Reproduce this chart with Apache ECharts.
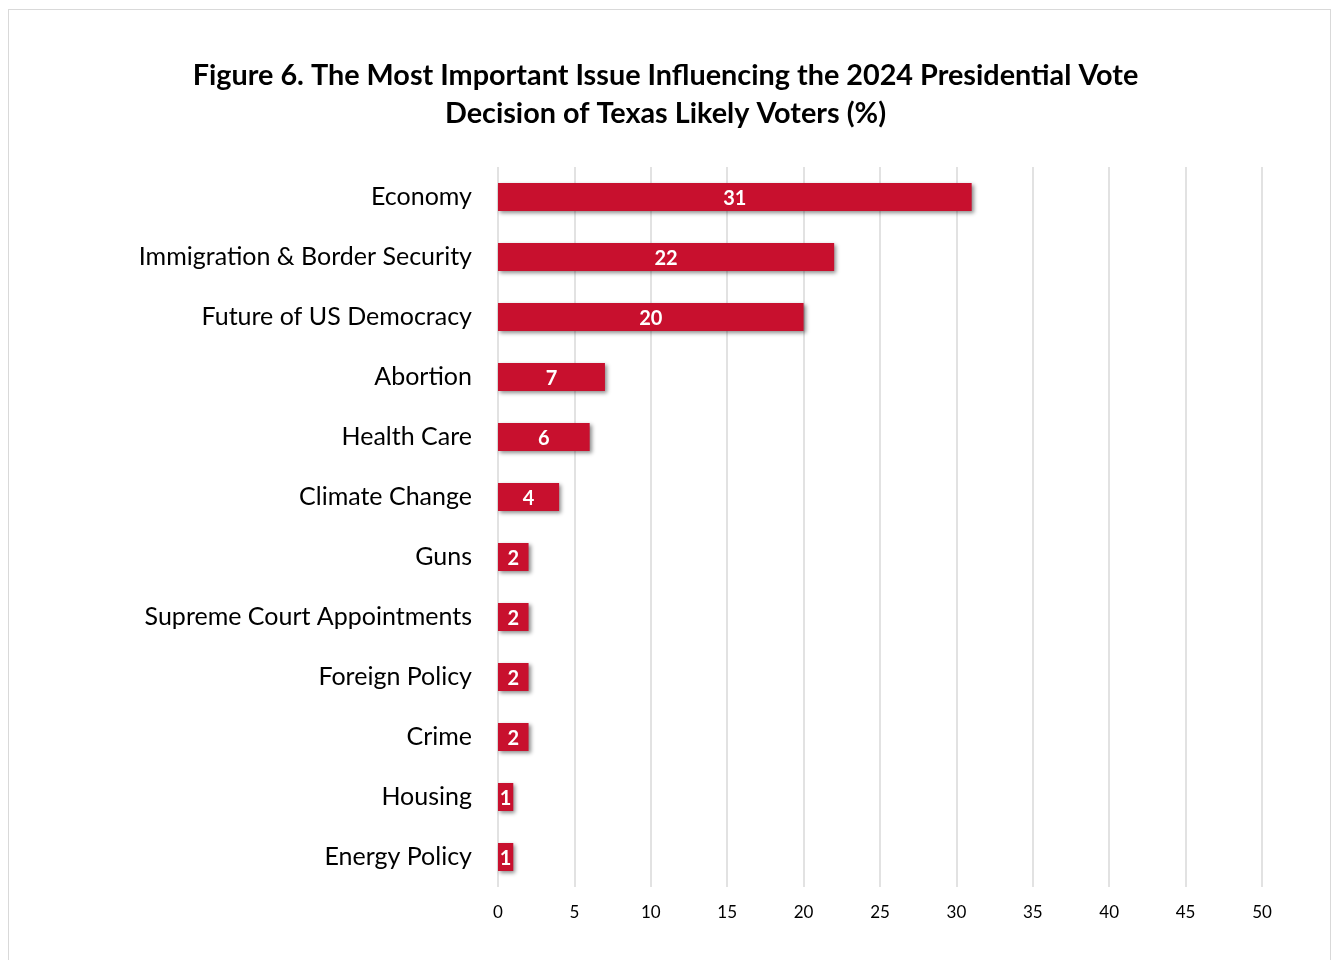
<!DOCTYPE html>
<html>
<head>
<meta charset="utf-8">
<script src="https://cdn.jsdelivr.net/npm/echarts@6/dist/echarts.min.js"></script>
<style>
  html, body { margin: 0; padding: 0; background: #fff; }
  #frame { position: absolute; left: 8px; top: 9px; width: 1323px; height: 960px;
           border: 1px solid #d9d9d9; border-bottom: none; box-sizing: border-box; }
  #chart { position: absolute; left: 0; top: 0; width: 1331px; height: 960px; }
</style>
</head>
<body>
<div id="frame"></div>
<div id="chart"></div>
<script>
// Issues, top to bottom as shown
const issues = [
  'Economy', 'Immigration & Border Security', 'Future of US Democracy', 'Abortion',
  'Health Care', 'Climate Change', 'Guns', 'Supreme Court Appointments',
  'Foreign Policy', 'Crime', 'Housing', 'Energy Policy'
];
// Share of likely voters naming each issue (%)
const shares = [31, 22, 20, 7, 6, 4, 2, 2, 2, 2, 1, 1];

const titleLines = [
  'Figure 6. The Most Important Issue Influencing the 2024 Presidential Vote',
  'Decision of Texas Likely Voters (%)'
];

const FONT = 'Lato, "Open Sans", sans-serif';
const chart = echarts.init(document.getElementById('chart'), null, { renderer: 'canvas' });

chart.setOption({
  animation: false,
  title: {
    text: titleLines.join('\n'),
    left: 'center',
    top: 52,
    textStyle: { fontFamily: FONT, fontSize: 28.8, fontWeight: 'bold', color: '#000', lineHeight: 38 }
  },
  grid: { left: 498, right: 69, top: 167, bottom: 73, containLabel: false },
  xAxis: {
    type: 'value',
    min: 0, max: 50, interval: 5,
    axisLine: { show: false },
    axisTick: { show: false },
    splitLine: { show: true, lineStyle: { color: '#d9d9d9', width: 1.5 } },
    axisLabel: { fontFamily: FONT, fontSize: 17, color: '#000', margin: 17 }
  },
  yAxis: {
    type: 'category',
    data: issues,
    inverse: true,
    axisLine: { show: false },
    axisTick: { show: false },
    axisLabel: { fontFamily: FONT, fontSize: 25, color: '#000', margin: 26 }
  },
  series: [{
    type: 'bar',
    data: shares,
    barWidth: 28,
    itemStyle: {
      color: '#C8102E',
      shadowColor: 'rgba(0,0,0,0.45)',
      shadowBlur: 4,
      shadowOffsetX: 2,
      shadowOffsetY: 2
    },
    label: {
      show: true,
      position: 'inside',
      offset: [0, 2],
      fontFamily: FONT,
      fontSize: 20,
      fontWeight: 'bold',
      color: '#fff'
    }
  }]
});
</script>
</body>
</html>
